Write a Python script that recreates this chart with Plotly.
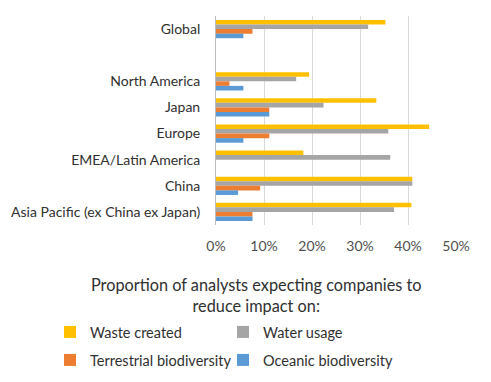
import plotly.graph_objects as go

categories = ["Global", " ", "North America", "Japan", "Europe",
              "EMEA/Latin America", "China", "Asia Pacific (ex China ex Japan)"]
waste = [0.353, None, 0.194, 0.334, 0.444, 0.182, 0.409, 0.407]
water = [0.317, None, 0.167, 0.224, 0.359, 0.363, 0.409, 0.371]
terrestrial = [0.076, None, 0.028, 0.111, 0.111, None, 0.092, 0.076]
oceanic = [0.057, None, 0.057, 0.111, 0.057, None, 0.046, 0.076]

series_names = ["Waste created", "Water usage",
                "Terrestrial biodiversity", "Oceanic biodiversity"]
series_values = [waste, water, terrestrial, oceanic]
series_colors = ["#FFC000", "#A5A5A5", "#ED7D31", "#5B9BD5"]
legend_ids = ["legend", "legend2", "legend3", "legend4"]

FONT = "Lato, 'Open Sans', sans-serif"
TXT = "#303030"

fig = go.Figure()
for name, vals, color, lg in zip(series_names, series_values,
                                 series_colors, legend_ids):
    fig.add_trace(go.Bar(
        y=categories, x=vals, name=name, orientation="h",
        marker=dict(color=color, line=dict(width=0)),
        legend=lg, showlegend=True,
    ))

# page has an 8px body margin, so the figure is sized to fit inside it
W, H = 483, 374
L, R, T, B = 208, 35, 8, 157
pw = W - L - R
ph = H - T - B

def px_x(p):
    return (p - L) / pw

def px_y(p):
    return (H - B - p) / ph

def leg(xpx, ypx):
    return dict(orientation="h", xanchor="left", yanchor="middle",
                x=px_x(xpx), y=px_y(ypx), visible=True,
                font=dict(size=14.5, color=TXT),
                bgcolor="rgba(0,0,0,0)", itemclick=False,
                itemdoubleclick=False)

fig.update_layout(
    width=W, height=H, showlegend=True,
    margin=dict(l=L, r=R, t=T, b=B, pad=0, autoexpand=False),
    paper_bgcolor="white", plot_bgcolor="white",
    barmode="group", bargap=0.3, bargroupgap=0,
    font=dict(family=FONT, size=14, color=TXT),
    xaxis=dict(range=[0, 0.5], dtick=0.1, tickformat=".0%",
               showgrid=True, gridcolor="#D9D9D9", gridwidth=1,
               zeroline=False, showline=False, fixedrange=True,
               automargin=False,
               tickfont=dict(size=14, color="#505050"),
               ticks="", ticklabelstandoff=11),
    yaxis=dict(categoryorder="array", categoryarray=categories,
               autorange="reversed", showgrid=False, zeroline=False,
               showline=True, linecolor="#BFBFBF", linewidth=1,
               automargin=False, fixedrange=True,
               tickfont=dict(size=14, color=TXT),
               ticks="", ticklabelstandoff=12),
    legend=leg(42, 324),
    legend2=leg(215, 324),
    legend3=leg(42, 352),
    legend4=leg(215, 352),
    annotations=[dict(
        text="Proportion of analysts expecting companies to<br>reduce impact on:",
        xref="paper", yref="paper", x=px_x(248), y=px_y(286.5),
        xanchor="center", yanchor="middle", showarrow=False,
        font=dict(size=16.3, color=TXT),
    )],
)

fig.write_html("out.html")
